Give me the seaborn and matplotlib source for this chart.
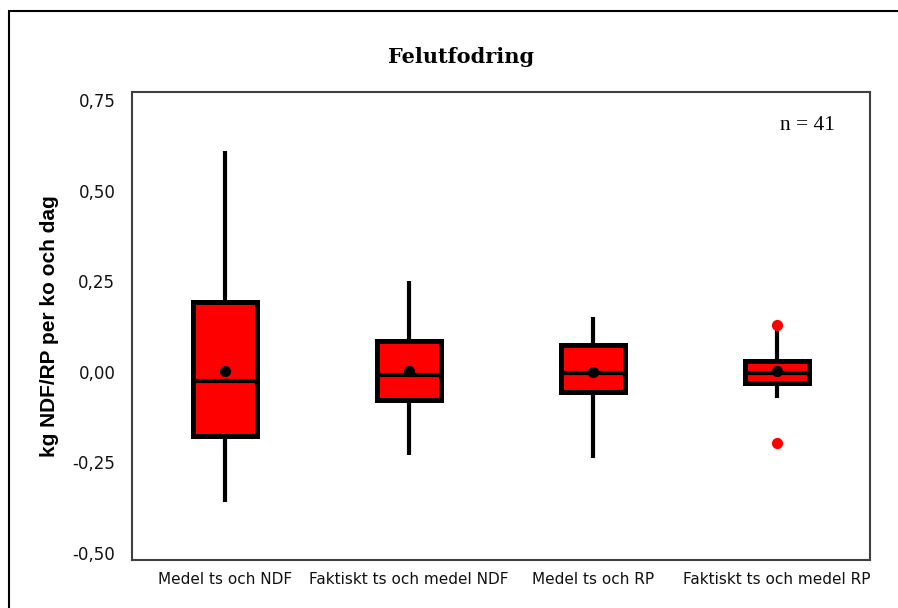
import matplotlib
matplotlib.use("Agg")
import matplotlib.pyplot as plt
import seaborn as sns
import pandas as pd
from matplotlib.patches import Rectangle

categories = ["Medel ts och NDF", "Faktiskt ts och medel NDF", "Medel ts och RP", "Faktiskt ts och medel RP"]
q1 = [-0.176, -0.077, -0.055, -0.030]
median = [-0.025, -0.008, -0.003, -0.004]
q3 = [0.193, 0.086, 0.073, 0.031]
whisker_low = [-0.36, -0.229, -0.237, -0.072]
whisker_high = [0.61, 0.25, 0.152, 0.115]
means = [0.003, 0.003, 0.000, 0.001]
outlier_cat = ["Faktiskt ts och medel RP", "Faktiskt ts och medel RP"]
outlier_val = [0.128, -0.196]
yticks = [-0.50, -0.25, 0.0, 0.25, 0.50, 0.75]

sns.set_style("white")
plt.rcParams['font.family'] = ['DejaVu Sans']
plt.rcParams['text.color'] = 'black'

fig = plt.figure(figsize=(8.98, 6.08), dpi=100)
ax = fig.add_axes([132/898, 1-560/608, (870-132)/898, (560-92)/608])

stats = []
for i, c in enumerate(categories):
    stats.append(dict(label=c, q1=q1[i], med=median[i], q3=q3[i],
                      whislo=whisker_low[i], whishi=whisker_high[i], fliers=[]))
pos = list(range(len(categories)))
ax.bxp(stats, positions=pos, widths=0.35, showfliers=False, showcaps=False,
       patch_artist=True,
       boxprops=dict(facecolor="#ff0000", edgecolor="black", linewidth=3.6),
       medianprops=dict(color="black", linewidth=3.0),
       whiskerprops=dict(color="black", linewidth=3.0, solid_capstyle="butt"))

mean_df = pd.DataFrame({"x": pos, "y": means})
sns.scatterplot(data=mean_df, x="x", y="y", ax=ax, color="black", s=65,
                edgecolor="black", linewidth=0, zorder=5)
out_df = pd.DataFrame({"x": [categories.index(c) for c in outlier_cat], "y": outlier_val})
sns.scatterplot(data=out_df, x="x", y="y", ax=ax, color="#ff0000", s=65,
                edgecolor="#ff0000", linewidth=0, zorder=5)

ax.set_xlim(-0.505, 3.505)
ax.set_ylim(-0.519, 0.772)
ax.set_yticks(yticks)
ax.set_yticklabels([f"{v:.2f}".replace(".", ",") for v in yticks], fontsize=12, color="#111111")
ax.set_xticks(pos)
ax.set_xticklabels(categories, fontsize=11, color="#111111")
ax.tick_params(axis="both", direction="out", length=5, width=1.2, color="#333333")
ax.tick_params(axis="y", pad=7)
ax.tick_params(axis="x", pad=4)
for s in ax.spines.values():
    s.set_color("#404040")
    s.set_linewidth(1.5)
ax.set_xlabel("")
ax.set_ylabel("kg NDF/RP per ko och dag", fontsize=15, fontweight="bold", color="black",
              family=["Liberation Sans"], labelpad=10)
ax.text(835/898, 1-125/608, "n = 41", transform=fig.transFigure, ha="right", va="center",
        fontsize=15.5, family=["Liberation Serif"], color="black")
fig.text(461/898, 1-57/608, "Felutfodring", ha="center", va="center",
         fontsize=15, fontweight="bold", family=["DejaVu Serif"], color="black")

fig.patches.append(Rectangle((9/898, -0.1), 1.2, 1-11/608+0.1, transform=fig.transFigure,
                             fill=False, edgecolor="black", linewidth=1.5))

fig.savefig("out.png", dpi=100)
